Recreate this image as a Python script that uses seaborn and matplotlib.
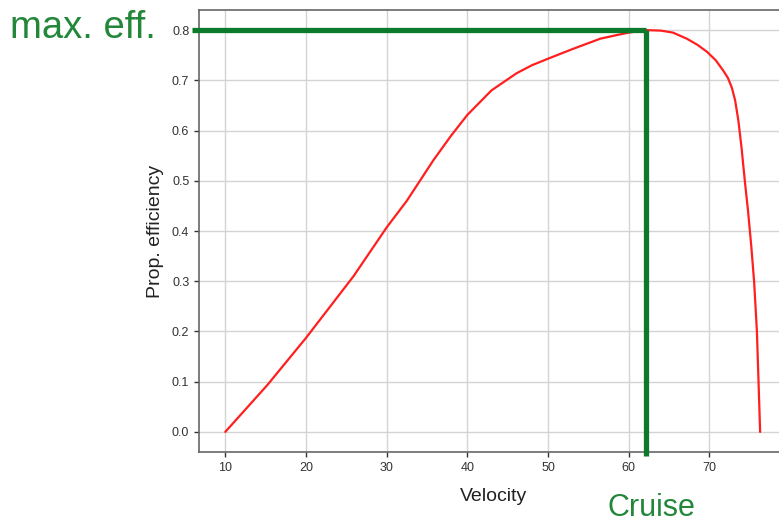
import matplotlib
matplotlib.use("Agg")
import matplotlib.pyplot as plt
import seaborn as sns

# propeller efficiency vs velocity
velocity = [10, 15.2, 20, 25.9, 30, 32.5, 35.8, 38, 40, 43, 46.1, 48, 50, 53,
            56.5, 58.5, 60, 62.2, 64, 65.5, 67.2, 68.5, 69.7, 70.8, 71.7, 72.3,
            72.8, 73.2, 73.6, 74.0, 74.4, 74.8, 75.2, 75.55, 75.9, 76.1, 76.3]
efficiency = [0.0, 0.093, 0.187, 0.31, 0.407, 0.46, 0.541, 0.59, 0.631, 0.68,
              0.714, 0.73, 0.743, 0.762, 0.783, 0.79, 0.795, 0.8, 0.799, 0.795,
              0.783, 0.771, 0.757, 0.74, 0.72, 0.705, 0.685, 0.66, 0.62, 0.565,
              0.50, 0.44, 0.37, 0.30, 0.20, 0.10, 0.0]

cruise_velocity = 62.2
max_eff = 0.8
xticks = [10, 20, 30, 40, 50, 60, 70]
yticks = [0.0, 0.1, 0.2, 0.3, 0.4, 0.5, 0.6, 0.7, 0.8]

sns.set_theme(style="whitegrid")
plt.rcParams['font.family'] = ['Liberation Sans', 'DejaVu Sans']

green = "#0b7a2a"
text_green = "#23873a"

fig = plt.figure(figsize=(7.79, 5.22), dpi=100)
ax = fig.add_axes([0.2555, 0.1341, 0.7555, 0.8467])

sns.lineplot(x=velocity, y=efficiency, color="#ff1f1f", linewidth=1.6,
             sort=False, estimator=None, ax=ax)

ax.set_xlim(6.75, 79.7)
ax.set_ylim(-0.04, 0.84)
ax.set_xticks(xticks)
ax.set_yticks(yticks)
ax.set_yticklabels([f"{v:.1f}" for v in yticks])
ax.tick_params(axis="both", labelsize=9, colors="#333333", length=3.5,
               width=1, direction="out", bottom=True, left=True)
ax.grid(True, color="#d4d4d4", linewidth=1)
for side in ["left", "bottom", "top", "right"]:
    ax.spines[side].set_color("#666666")
    ax.spines[side].set_linewidth(1.2)

ax.set_xlabel("Velocity", fontsize=14, color="#222222", labelpad=10)
ax.set_ylabel("Prop. efficiency", fontsize=14, color="#222222", labelpad=6)

# max efficiency / cruise markers
ax.plot([5.9, cruise_velocity], [max_eff, max_eff], color=green, linewidth=3.8,
        clip_on=False, solid_capstyle="butt", zorder=5)
ax.plot([cruise_velocity, cruise_velocity], [max_eff, -0.047], color=green,
        linewidth=3.8, clip_on=False, solid_capstyle="butt", zorder=5)

fig.text(10 / 779, 1 - 28 / 522, "max. eff.", fontsize=27.5, color=text_green,
         ha="left", va="center")
fig.text(651 / 779, 1 - 508 / 522, "Cruise", fontsize=22, color=text_green,
         ha="center", va="center")

fig.savefig("out.png", dpi=100)
